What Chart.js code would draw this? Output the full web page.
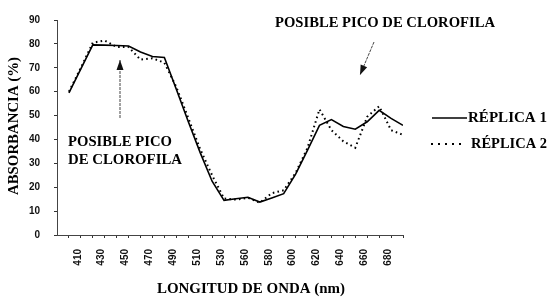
<!DOCTYPE html>
<html><head><meta charset="utf-8">
<script src="https://cdn.jsdelivr.net/npm/chart.js@4"></script>
<style>html,body{margin:0;padding:0;background:#fff}#wrap{width:548px;height:307px}</style>
</head><body><div id="wrap"><canvas id="c" width="548" height="307"></canvas></div>
<script>
// ---- data ----
const tickLabels = ['410','430','450','470','490','510','530','560','580','600','620','640','660','680'];
const yTickValues = [0,10,20,30,40,50,60,70,80,90];
// samples every half label step, starting half a step before "410"
const replica1 = [59.5,69.5,79.6,79.5,79.3,79.1,76.6,74.7,74.3,61,47.5,34.5,22.5,14.5,15.2,15.8,13.8,15.5,17.3,25.5,35.5,45.9,48.3,45.4,44.3,47.4,52.2,48.8,45.9];
const replica2 = [60,70,80.5,81.4,78.7,78.7,73.4,74,72.1,62,49,36,25,15.3,14.8,15.6,13.5,17.5,18.7,26,36.5,52.6,43.9,39.2,36.5,49.5,53.9,43.9,41.9];
const seriesNames = ['RÉPLICA 1','RÉPLICA 2'];
const yTitle = 'ABSORBANCIA (%)';
const xTitle = 'LONGITUD DE ONDA (nm)';
const noteTop = 'POSIBLE PICO DE CLOROFILA';
const noteLeft = ['POSIBLE PICO','DE CLOROFILA'];

const toPoints = arr => arr.map((v,i)=>({x:(i-1)/2, y:v}));
const SERIF = '"Liberation Serif", "Times New Roman", serif';
const SANS = '"Liberation Sans", Arial, sans-serif';

function fitText(ctx, text, x, y, width, align){
  ctx.save();
  const w = ctx.measureText(text).width;
  const s = width / w;
  ctx.translate(x, y);
  ctx.scale(s, 1);
  ctx.textAlign = 'left';
  let dx = 0;
  if (align === 'center') dx = -w/2;
  ctx.fillText(text, dx, 0);
  ctx.restore();
}
function arrow(ctx, x1, y1, x2, y2){
  ctx.save();
  ctx.strokeStyle = '#444'; ctx.fillStyle = '#111'; ctx.lineWidth = 1;
  ctx.setLineDash([3,1]);
  ctx.beginPath(); ctx.moveTo(x1,y1); ctx.lineTo(x2,y2); ctx.stroke();
  ctx.setLineDash([]);
  const a = Math.atan2(y2-y1, x2-x1), L = 10, W = 3.5;
  ctx.beginPath();
  ctx.moveTo(x2,y2);
  ctx.lineTo(x2 - L*Math.cos(a) + W*Math.sin(a), y2 - L*Math.sin(a) - W*Math.cos(a));
  ctx.lineTo(x2 - L*Math.cos(a) - W*Math.sin(a), y2 - L*Math.sin(a) + W*Math.cos(a));
  ctx.closePath(); ctx.fill();
  ctx.restore();
}

const decor = {
  id: 'decor',
  afterDraw(chart){
    const ctx = chart.ctx;
    ctx.save();
    ctx.fillStyle = '#000';
    ctx.textBaseline = 'middle';
    ctx.font = 'bold 15px ' + SERIF;
    // y title
    ctx.save(); ctx.translate(14, 126); ctx.rotate(-Math.PI/2);
    fitText(ctx, yTitle, 0, 0, 138, 'center'); ctx.restore();
    // x title
    fitText(ctx, xTitle, 251, 289, 188, 'center');
    // notes
    fitText(ctx, noteTop, 275, 23, 220, 'left');
    fitText(ctx, noteLeft[0], 68, 142, 104, 'left');
    fitText(ctx, noteLeft[1], 68, 160, 114, 'left');
    // legend
    const ds = chart.data.datasets;
    ctx.save();
    ctx.strokeStyle = '#000'; ctx.lineWidth = ds[0].borderWidth;
    ctx.beginPath(); ctx.moveTo(432,118); ctx.lineTo(467,118); ctx.stroke();
    ctx.lineWidth = 2; ctx.setLineDash([2,5]);
    ctx.beginPath(); ctx.moveTo(431,144); ctx.lineTo(466,144); ctx.stroke();
    ctx.restore();
    fitText(ctx, ds[0].label, 468, 118, 79, 'left');
    fitText(ctx, ds[1].label, 471, 144, 76, 'left');
    ctx.restore();
    arrow(ctx, 120, 118, 120, 60);
    arrow(ctx, 374, 42, 360, 75);
  }
};

new Chart(document.getElementById('c'), {
  type: 'line',
  data: {
    datasets: [
      {label: seriesNames[0], data: toPoints(replica1), borderColor:'#000', borderWidth:1.6, pointRadius:0, tension:0, fill:false},
      {label: seriesNames[1], data: toPoints(replica2), borderColor:'#000', borderWidth:2, borderDash:[1.6,3.2], borderCapStyle:'butt', pointRadius:0, tension:0, fill:false}
    ]
  },
  options: {
    responsive:false, animation:false, devicePixelRatio:1,
    layout:{padding:{top:10, right:145, left:0, bottom:0}},
    plugins:{legend:{display:false}, tooltip:{enabled:false}},
    scales:{
      x:{type:'linear', min:-1, max:13.5,
        afterBuildTicks: s => { s.ticks = replica1.map((_,i)=>({value:(i-1)/2})); },
        afterFit: s => { s.height = 72; },
        ticks:{autoSkip:false, minRotation:90, maxRotation:90, padding:11, labelOffset:-3,
          color:'#111', font:{family:SANS, size:10, weight:'bold'},
          callback: v => Number.isInteger(v) ? tickLabels[v] : ''},
        grid:{drawOnChartArea:false, drawTicks:true, tickLength:3, color:'#333'},
        border:{display:true, dash:[2,2], color:'#444'}
      },
      y:{type:'linear', min:0, max:90,
        afterBuildTicks: s => { s.ticks = yTickValues.map(v=>({value:v})); },
        afterFit: s => { s.width = 57; },
        ticks:{padding:14, color:'#111', font:{family:SANS, size:10, weight:'bold'}},
        grid:{drawOnChartArea:false, drawTicks:true, tickLength:3, color:'#333'},
        border:{display:true, dash:[2,2], color:'#444'}
      }
    }
  },
  plugins:[decor]
});
</script></body></html>
